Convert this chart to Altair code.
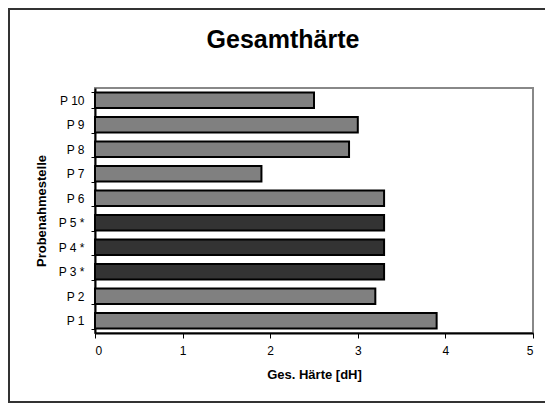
import altair as alt
import pandas as pd

stellen = ["P 1", "P 2", "P 3 *", "P 4 *", "P 5 *", "P 6", "P 7", "P 8", "P 9", "P 10"]
haerte = [3.9, 3.2, 3.3, 3.3, 3.3, 3.3, 1.9, 2.9, 3.0, 2.5]
gruppe = ["hell", "hell", "dunkel", "dunkel", "dunkel", "hell", "hell", "hell", "hell", "hell"]
titel = "Gesamthärte"

df = pd.DataFrame({"Stelle": stellen, "Haerte": haerte, "Gruppe": gruppe})
order = list(reversed(stellen))

FONT = "Liberation Sans"

bars = alt.Chart(df).mark_bar(stroke="black", strokeWidth=2).encode(
    x=alt.X("Haerte:Q", title="Ges. Härte [dH]",
            scale=alt.Scale(domain=[0, 5], nice=False),
            axis=alt.Axis(values=[0, 1, 2, 3, 4, 5], grid=False, domainColor="black",
                          domainWidth=2, tickColor="black", tickSize=5, labelPadding=7,
                          labelFontSize=12, labelFont=FONT, labelColor="black",
                          titleFont=FONT, titleFontSize=13, titleFontWeight="bold",
                          titleColor="black", titlePadding=12)),
    y=alt.Y("Stelle:N", title="Probenahmestelle", sort=order,
            scale=alt.Scale(paddingInner=0.36, paddingOuter=0.18),
            axis=alt.Axis(tickBand="extent", domainColor="black", domainWidth=2,
                          tickColor="black", tickSize=4, labelPadding=7,
                          labelFontSize=12, labelFont=FONT, labelColor="black",
                          titleFont=FONT, titleFontSize=13, titleFontWeight="bold",
                          titleColor="black", titlePadding=9)),
    color=alt.Color("Gruppe:N", scale=alt.Scale(domain=["hell", "dunkel"],
                                                range=["#808080", "#333333"]), legend=None),
)

frame = alt.Chart(pd.DataFrame({"a": [0]})).mark_rect(
    fill=None, stroke="#333333", strokeWidth=2, clip=False
).encode(
    x=alt.value(-86), x2=alt.value(620), y=alt.value(-79), y2=alt.value(314)
)

title_mark = alt.Chart(pd.DataFrame({"t": [titel]})).mark_text(
    font=FONT, fontSize=25, fontWeight="bold", color="black",
    align="center", baseline="alphabetic", clip=False
).encode(
    text="t:N", x=alt.value(188), y=alt.value(-40)
)

chart = alt.layer(frame, bars, title_mark).properties(
    width=438, height=245,
    padding={"left": 87, "top": 80, "right": 12, "bottom": 70},
    autosize=alt.AutoSizeParams(type="none"),
).configure_view(stroke="#888888", strokeWidth=2)

chart.save("out.html", embed_options={"renderer": "svg", "actions": False})
